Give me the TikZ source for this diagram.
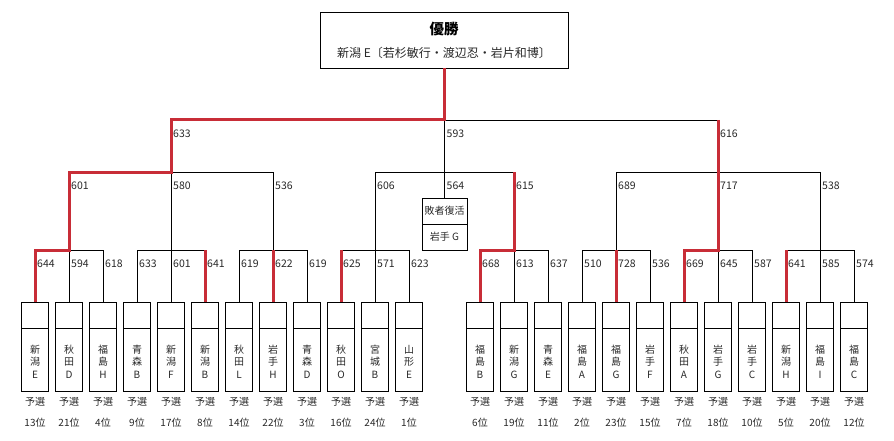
\documentclass[tikz,border=0pt]{standalone}
\usepackage{fontspec}
\setmainfont{Noto Sans CJK JP}
\definecolor{winred}{RGB}{200,45,55}
\definecolor{txt}{RGB}{40,40,40}
\begin{document}
\begin{tikzpicture}[x=1pt,y=-1pt,
  line/.style={black,line width=0.9pt},
  win/.style={winred,line width=3pt},
  score/.style={anchor=west,inner sep=0pt,font=\fontsize{10.5}{12}\selectfont,text=txt},
  teambox/.style={draw,line width=0.9pt,minimum width=27,minimum height=89,inner sep=0pt},
  teamname/.style={align=center,inner sep=0pt,font=\fontsize{10}{12.5}\selectfont,text=txt},
  rank/.style={inner sep=0pt,font=\fontsize{10}{11}\selectfont,text=txt},
  smallbox/.style={draw,line width=0.9pt,minimum width=45,minimum height=26,inner sep=0pt,font=\fontsize{10}{11}\selectfont,text=txt}]
\useasboundingbox (0,0) rectangle (894,441);
\coordinate (ya) at (0,120);
\coordinate (yb) at (0,172);
\coordinate (yc) at (0,250);
% champion box
\node[draw,line width=0.9pt,minimum width=248,minimum height=56,inner sep=0pt] (champ) at (444,40) {};
\node[inner sep=0pt,font=\fontsize{14.5}{16}\selectfont\bfseries] (champt) at (444,29) {優勝};
\node[inner sep=0pt,font=\fontsize{12}{14}\selectfont,text=txt] (champs) at (444,53) {新潟 E〔若杉敏行・渡辺忍・岩片和博〕};
% loser revival box
\node[smallbox] (lr1) at (444.5,211) {敗者復活};
\node[smallbox] (lr2) at (444.5,237) {岩手 G};
% team boxes, left block
\foreach \a/\b/\t/\r [count=\i] in {新/潟/E/13,秋/田/D/21,福/島/H/4,青/森/B/9,新/潟/F/17,新/潟/B/8,秋/田/L/14,岩/手/H/22,青/森/D/3,秋/田/O/16,宮/城/B/24,山/形/E/1}{
  \pgfmathsetmacro\xx{35+34*(\i-1)}
  \node[teambox] (b\i) at (\xx,346.5) {};
  \draw[line] (b\i.west |- 0,328) -- (b\i.east |- 0,328);
  \node[teamname] (bn\i) at (\xx,361.5) {\a\\\b\\\t};
  \node[rank] (bq\i) at (\xx,402) {予選};
  \node[rank] (br\i) at (\xx,423) {\r 位};
}
% team boxes, right block
\foreach \a/\b/\t/\r [count=\i] in {福/島/B/6,新/潟/G/19,青/森/E/11,福/島/A/2,福/島/G/23,岩/手/F/15,秋/田/A/7,岩/手/G/18,岩/手/C/10,新/潟/H/5,福/島/I/20,福/島/C/12}{
  \pgfmathsetmacro\xx{480+34*(\i-1)}
  \node[teambox] (r\i) at (\xx,346.5) {};
  \draw[line] (r\i.west |- 0,328) -- (r\i.east |- 0,328);
  \node[teamname] (rn\i) at (\xx,361.5) {\a\\\b\\\t};
  \node[rank] (rq\i) at (\xx,402) {予選};
  \node[rank] (rr\i) at (\xx,423) {\r 位};
}
% black bracket lines
\foreach \u/\v/\w in {b1/b2/b3,b4/b5/b6,b7/b8/b9,b10/b11/b12,r1/r2/r3,r4/r5/r6,r7/r8/r9,r10/r11/r12}{
  \draw[line] (\u.north) -- (\u.north |- yc) -- (\w.north |- yc) -- (\w.north);
  \draw[line] (\v.north) -- (\v.north |- yb);
}
\draw[line] (b2.north |- yb) -- (b8.north |- yb);
\draw[line] (b5.north |- yb) -- (b5.north |- ya);
\draw[line] (b11.north |- yb) -- (r2.north |- yb);
\draw[line] (lr1.north) -- (lr1.north |- ya);
\draw[line] (r5.north |- yb) -- (r11.north |- yb);
\draw[line] (r8.north |- yb) -- (r8.north |- ya);
\draw[line] (b5.north |- ya) -- (r8.north |- ya);
% winner path
\draw[win] (champ.south) -- (champ.south |- ya) -- (b5.north |- ya) -- (b5.north |- yb) -- (b2.north |- yb) -- (b2.north |- yc) -- (b1.north |- yc) -- (b1.north);
\draw[win] (b6.north |- yc) -- (b6.north);
\draw[win] (b8.north |- yc) -- (b8.north);
\draw[win] (b10.north |- yc) -- (b10.north);
\draw[win] (r2.north |- yb) -- (r2.north |- yc) -- (r1.north |- yc) -- (r1.north);
\draw[win] (r5.north |- yc) -- (r5.north);
\draw[win] (r8.north |- ya) -- (r8.north |- yc) -- (r7.north |- yc) -- (r7.north);
\draw[win] (r10.north |- yc) -- (r10.north);
% scores, level 1
\node[score] (s1a) at ([xshift=2]b5.north |- 0,134) {633};
\node[score] (s1b) at ([xshift=2]lr1.north |- 0,134) {593};
\node[score] (s1c) at ([xshift=2]r8.north |- 0,134) {616};
% scores, level 2
\foreach \nd/\s [count=\k] in {b2/601,b5/580,b8/536,b11/606,lr1/564,r2/615,r5/689,r8/717,r11/538}{
  \node[score] (s2\k) at ([xshift=2]\nd.north |- 0,186) {\s};
}
% scores, level 3
\foreach \nd/\s [count=\k] in {b1/644,b2/594,b3/618,b4/633,b5/601,b6/641,b7/619,b8/622,b9/619,b10/625,b11/571,b12/623,r1/668,r2/613,r3/637,r4/510,r5/728,r6/536,r7/669,r8/645,r9/587,r10/641,r11/585,r12/574}{
  \node[score] (s3\k) at ([xshift=2]\nd.north |- 0,264) {\s};
}
\end{tikzpicture}
\end{document}
